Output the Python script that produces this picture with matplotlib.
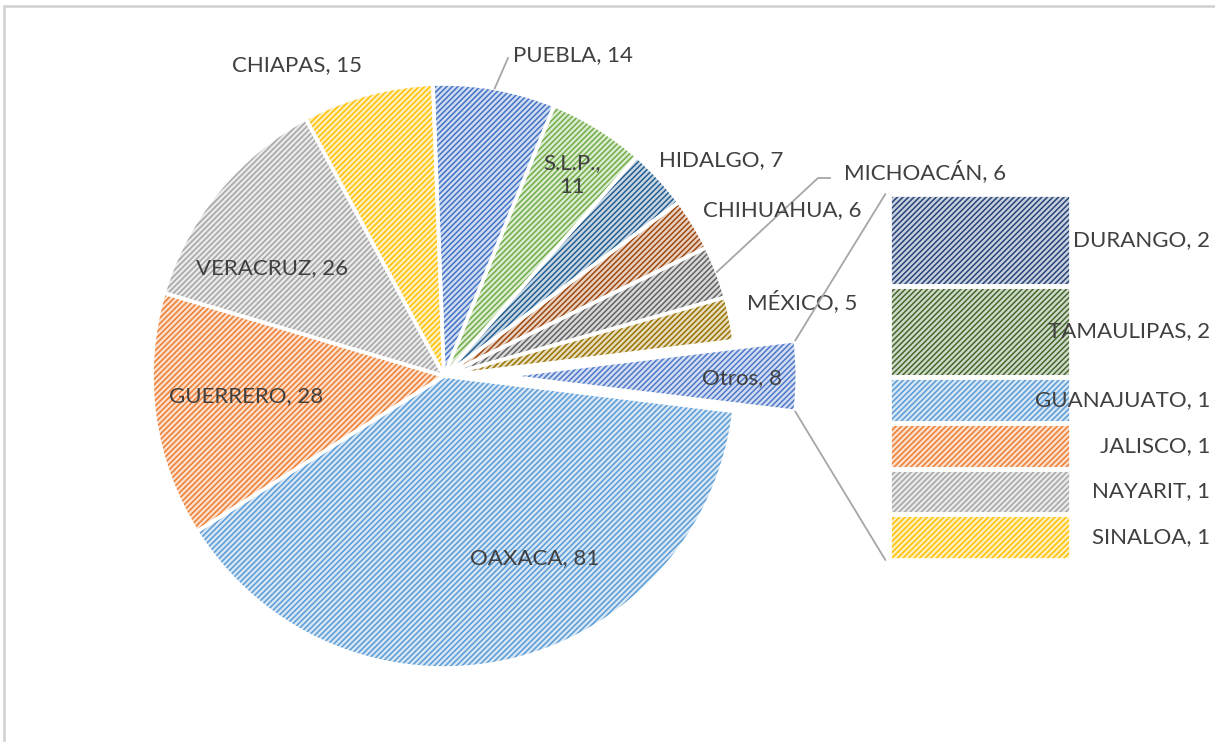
import numpy as np
import matplotlib
matplotlib.use("Agg")
import matplotlib.pyplot as plt
from matplotlib.patches import Rectangle, ConnectionPatch
from matplotlib.transforms import blended_transform_factory
from matplotlib.colors import to_rgb

# Pie slices, clockwise starting with the exploded "Otros" slice
pie_names = ["Otros", "OAXACA", "GUERRERO", "VERACRUZ", "CHIAPAS", "PUEBLA",
             "S.L.P.,\n", "HIDALGO", "CHIHUAHUA", "MICHOACÁN", "MÉXICO"]
pie_values = [8, 81, 28, 26, 15, 14, 11, 7, 6, 6, 5]
pie_colors = ["#4F78C9", "#5B9BD5", "#ED7D31", "#A5A5A5", "#FFC000", "#4472C4",
              "#70AD47", "#255E91", "#9E480E", "#636363", "#997300"]

# Breakdown of "Otros" (top to bottom)
bar_names = ["DURANGO", "TAMAULIPAS", "GUANAJUATO", "JALISCO", "NAYARIT", "SINALOA"]
bar_values = [2, 2, 1, 1, 1, 1]
bar_colors = ["#264478", "#43682B", "#5B9BD5", "#ED7D31", "#A5A5A5", "#FFC000"]

TEXT = "#404040"
FONT = "Lato"
FS = 16
HATCH = "//////"
plt.rcParams["hatch.linewidth"] = 1.1
plt.rcParams["font.family"] = [FONT, "DejaVu Sans"]

W, H = 1215, 742


def tint(c, amt=0.75):
    r, g, b = to_rgb(c)
    return (r + (1 - r) * amt, g + (1 - g) * amt, b + (1 - b) * amt)


def py(y):
    # pixel row (from top) to data y
    return H - y


fig = plt.figure(figsize=(W / 100, H / 100), dpi=100)
ax = fig.add_axes([0, 0, 1, 1])

cx, cy, rad = 444, py(376), 292
explode = [0.21 * rad] + [0] * (len(pie_values) - 1)
start = 180 * pie_values[0] / sum(pie_values)

wedges, _ = ax.pie(pie_values, colors=[tint(c) for c in pie_colors], explode=explode,
                   startangle=start, counterclock=False, center=(cx, cy), radius=rad,
                   frame=True, wedgeprops=dict(linewidth=0))
for w, c in zip(wedges, pie_colors):
    w.set_edgecolor(c)
    w.set_hatch(HATCH)
edges, _ = ax.pie(pie_values, explode=explode, startangle=start, counterclock=False,
                  center=(cx, cy), radius=rad, frame=True,
                  wedgeprops=dict(fill=False, edgecolor="white", linewidth=2.6))

ax.set_xlim(0, W)
ax.set_ylim(0, H)
ax.set_aspect("auto")
ax.axis("off")

# chart area border (only left / top visible)
ax.add_patch(Rectangle((4, -20), W + 40, py(6) + 20, fill=False,
                       edgecolor="#D0D0D0", linewidth=1.8, clip_on=False))

# pie labels
label_pos = [(742, 378), (535, 558), (246, 396), (272, 268), (297, 65), (573, 55),
             (572, 175), (721, 160), (782, 210), (925, 172), (802, 302)]
for name, val, (x, y) in zip(pie_names, pie_values, label_pos):
    txt = f"{name}{val}" if name.endswith("\n") else f"{name}, {val}"
    ax.text(x, py(y), txt, ha="center", va="center", fontsize=FS, color=TEXT,
            linespacing=1.3, multialignment="center")

# leader lines (PUEBLA and MICHOACÁN)
angles = start - np.cumsum([0] + pie_values[:-1]) * 360 / sum(pie_values)
mids = angles - np.array(pie_values) * 180 / sum(pie_values)
lead = "#A6A6A6"
for idx, pts in [(5, [(508, 58)]), (9, [(818, 178), (830, 178)])]:
    a = np.radians(mids[idx])
    xs = [cx + rad * np.cos(a)] + [p[0] for p in pts]
    ys = [cy + rad * np.sin(a)] + [py(p[1]) for p in pts]
    ax.plot(xs, ys, color=lead, linewidth=1.3)

# bar of "Otros"
bx0, bx1, by0, by1 = 889, 1071, 194, 560
ax2 = fig.add_axes([bx0 / W, py(by1) / H, (bx1 - bx0) / W, (by1 - by0) / H])
bottoms = np.sum(bar_values) - np.cumsum(bar_values)
ax2.bar(0, bar_values, bottom=bottoms, width=1, color=[tint(c) for c in bar_colors],
        edgecolor=bar_colors, hatch=HATCH, linewidth=0)
ax2.bar(0, bar_values, bottom=bottoms, width=1, fill=False, edgecolor="white",
        linewidth=3.4)
ax2.set_xlim(-0.5, 0.5)
ax2.set_ylim(0, sum(bar_values))
ax2.axis("off")
tr = blended_transform_factory(ax2.transAxes, ax2.transData)
for name, val, b in zip(bar_names, bar_values, bottoms):
    ax2.text((1210 - bx0) / (bx1 - bx0), b + val / 2, f"{name}, {val}", transform=tr,
             ha="right", va="center", fontsize=FS, color=TEXT, clip_on=False)

# connector lines from exploded slice to the bar
ow = wedges[0]
for ang, yb in [(ow.theta2, sum(bar_values)), (ow.theta1, 0)]:
    a = np.radians(ang)
    ox, oy = ow.center
    con = ConnectionPatch(xyA=(ox + rad * np.cos(a), oy + rad * np.sin(a)), coordsA=ax.transData,
                          xyB=(-0.52, yb), coordsB=ax2.transData, color=lead, linewidth=1.3)
    fig.add_artist(con)

fig.savefig("out.png", dpi=100, facecolor="white")
